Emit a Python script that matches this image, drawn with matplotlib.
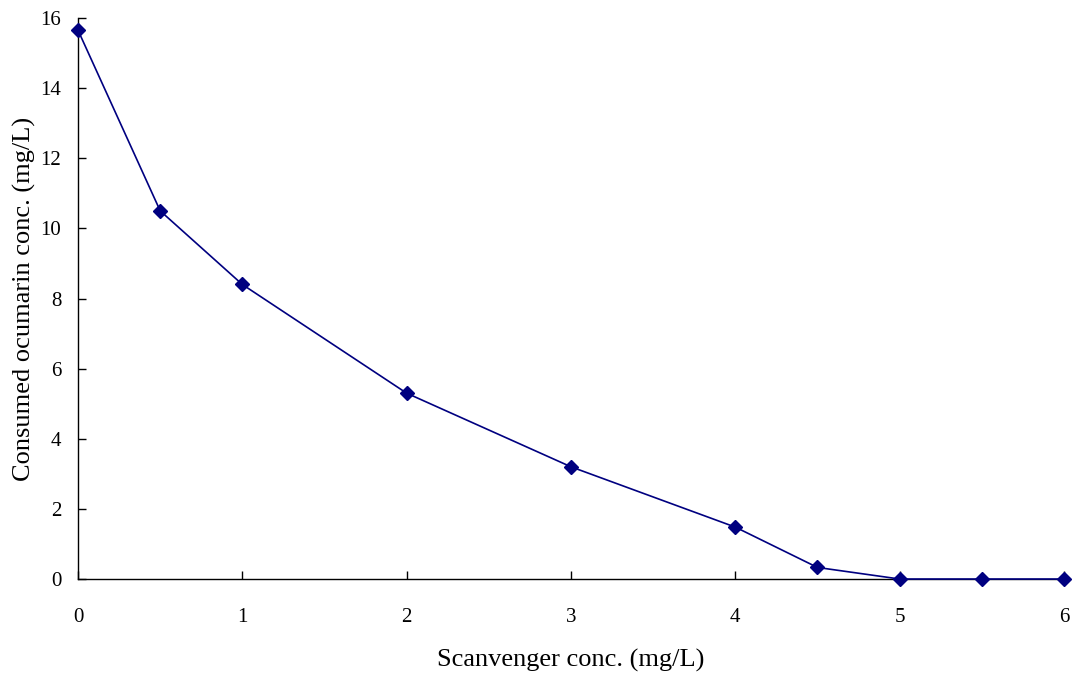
import matplotlib
matplotlib.use("Agg")
import matplotlib.pyplot as plt

# scavenger concentration (mg/L) and consumed ocumarin (mg/L)
scavenger = [0, 0.5, 1, 2, 3, 4, 4.5, 5, 5.5, 6]
consumed = [15.65, 10.5, 8.4, 5.3, 3.2, 1.48, 0.33, 0.0, 0.0, 0.0]
x_ticks = [0, 1, 2, 3, 4, 5, 6]
y_ticks = [0, 2, 4, 6, 8, 10, 12, 14, 16]

plt.rcParams["font.family"] = ["Liberation Serif", "DejaVu Serif"]

fig = plt.figure(figsize=(10.72, 6.75), dpi=100)
ax = fig.add_axes([0.0728, 0.1422, 0.9197, 0.8311])

ax.plot(scavenger, consumed, color="#000080", lw=1.2, marker="D",
        markersize=7, markerfacecolor="#000080", markeredgecolor="#000080",
        clip_on=False, zorder=3)

ax.set_xlim(0, 6)
ax.set_ylim(0, 16)
ax.set_xticks(x_ticks)
ax.set_yticks(y_ticks)
ax.tick_params(direction="in", length=6, width=1, labelsize=15)
ax.tick_params(axis="x", pad=21)
ax.tick_params(axis="y", pad=12)
for side in ("top", "right"):
    ax.spines[side].set_visible(False)
for side in ("left", "bottom"):
    ax.spines[side].set_linewidth(1)

ax.set_xlabel("Scanvenger conc. (mg/L)", fontsize=19, labelpad=16)
ax.set_ylabel("Consumed ocumarin conc. (mg/L)", fontsize=19, labelpad=3)

fig.savefig("out.png", dpi=100)
